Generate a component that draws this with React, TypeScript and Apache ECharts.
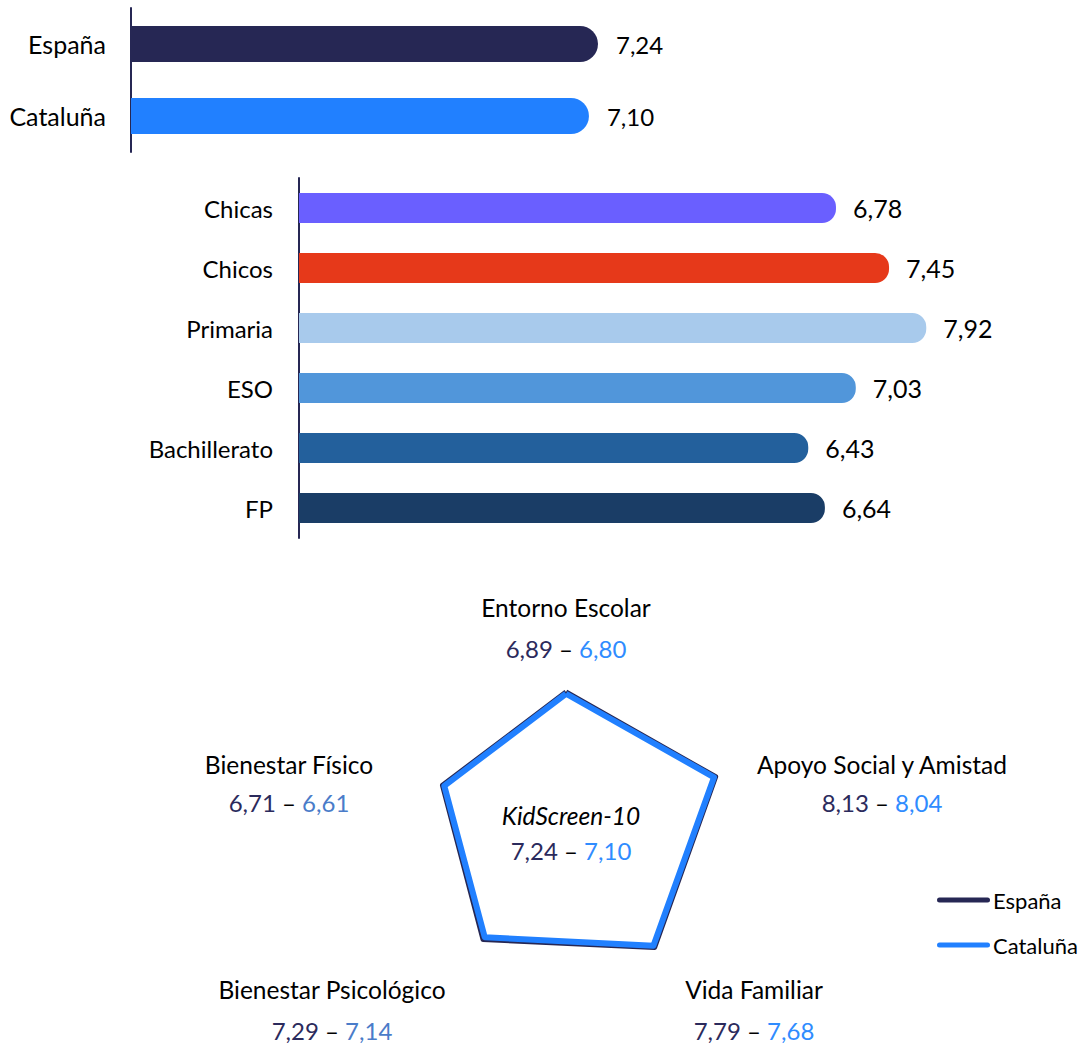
import React, { useEffect, useRef } from "react";
import * as echarts from "echarts";

const topCategories = ["España", "Cataluña"];
const topValues = [7.24, 7.1];
const topColors = ["#262754", "#2180FF"];

const groupCategories = ["Chicas", "Chicos", "Primaria", "ESO", "Bachillerato", "FP"];
const groupValues = [6.78, 7.45, 7.92, 7.03, 6.43, 6.64];
const groupColors = ["#6A5FFF", "#E6391A", "#A8CAEC", "#5196DA", "#23609C", "#1A3D66"];

const radarIndicators = [
  "Entorno Escolar",
  "Bienestar Físico",
  "Bienestar Psicológico",
  "Vida Familiar",
  "Apoyo Social y Amistad",
];
const espanaRadar = [6.89, 6.71, 7.29, 7.79, 8.13];
const catalunaRadar = [6.8, 6.61, 7.14, 7.68, 8.04];
const catalunaLabelColors = ["#2F8CFF", "#4A7CC9", "#4A7CC9", "#2F8CFF", "#2F8CFF"];
const radarTitle = "KidScreen-10";

const FONT = "Lato";
const fmt = (v: number) => v.toFixed(2).replace(".", ",");

export default function App() {
  const ref = useRef<HTMLDivElement>(null);
  useEffect(() => {
    if (!ref.current) return;
    const chart = echarts.init(ref.current, undefined, { renderer: "svg" });

    const labelPos = [
      [566, 607],
      [289, 764],
      [332, 989],
      [754, 989],
      [882, 764],
    ];
    const valueOffset = [41, 38, 41, 41, 38];
    const FS = 24.5;
    const VFS = 24;

    const graphics: any[] = [];
    radarIndicators.forEach((name, i) => {
      graphics.push({
        type: "text",
        x: labelPos[i][0],
        y: labelPos[i][1],
        style: {
          text: name,
          fontSize: FS,
          fontFamily: FONT,
          fill: "#000",
          align: "center",
          verticalAlign: "middle",
        },
      });
      graphics.push({
        type: "text",
        x: labelPos[i][0],
        y: labelPos[i][1] + valueOffset[i],
        style: {
          text: `{a|${fmt(espanaRadar[i])}} {d|–} {b|${fmt(catalunaRadar[i])}}`,
          fontSize: VFS,
          fontFamily: FONT,
          align: "center",
          verticalAlign: "middle",
          rich: {
            a: { fill: "#2B2A5C", fontSize: VFS, fontFamily: FONT },
            d: { fill: "#000", fontSize: VFS, fontFamily: FONT },
            b: { fill: catalunaLabelColors[i], fontSize: VFS, fontFamily: FONT },
          },
        },
      });
    });
    graphics.push({
      type: "text",
      x: 571,
      y: 815,
      style: {
        text: radarTitle,
        fontSize: FS,
        fontStyle: "italic",
        fontFamily: FONT,
        fill: "#000",
        align: "center",
        verticalAlign: "middle",
      },
    });
    graphics.push({
      type: "text",
      x: 571,
      y: 850,
      style: {
        text: `{a|${fmt(topValues[0])}} {d|–} {b|${fmt(topValues[1])}}`,
        fontSize: VFS,
        fontFamily: FONT,
        align: "center",
        verticalAlign: "middle",
        rich: {
          a: { fill: "#2B2A5C", fontSize: VFS, fontFamily: FONT },
          d: { fill: "#000", fontSize: VFS, fontFamily: FONT },
          b: { fill: "#2F8CFF", fontSize: VFS, fontFamily: FONT },
        },
      },
    });

    const option: any = {
      animation: false,
      backgroundColor: "#fff",
      textStyle: { fontFamily: FONT },
      grid: [
        { left: 131, top: 8, width: 645, height: 144 },
        { left: 299, top: 178, width: 712.8, height: 360 },
      ],
      xAxis: [
        { gridIndex: 0, type: "value", min: 0, max: 10, show: false },
        { gridIndex: 1, type: "value", min: 0, max: 9, show: false },
      ],
      yAxis: [
        {
          gridIndex: 0,
          type: "category",
          data: topCategories,
          inverse: true,
          axisLine: { show: true, lineStyle: { color: "#262754", width: 2 } },
          axisTick: { show: false },
          axisLabel: { fontSize: 25, color: "#000", margin: 25, fontFamily: FONT },
        },
        {
          gridIndex: 1,
          type: "category",
          data: groupCategories,
          inverse: true,
          axisLine: { show: true, lineStyle: { color: "#262754", width: 2 } },
          axisTick: { show: false },
          axisLabel: { fontSize: 24, color: "#000", margin: 26, fontFamily: FONT },
        },
      ],
      radar: {
        center: [566, 825.4],
        radius: 193.6,
        startAngle: 90,
        indicator: radarIndicators.map((n) => ({ name: n, min: 0, max: 10 })),
        axisName: { show: false },
        axisLine: { show: false },
        splitLine: { show: false },
        splitArea: { show: false },
        axisTick: { show: false },
        axisLabel: { show: false },
      },
      legend: {
        orient: "vertical",
        left: 937,
        top: 889,
        padding: 0,
        itemWidth: 53,
        itemHeight: 5,
        itemGap: 23,
        icon: "path://M2.5,0 L50.5,0 A2.5,2.5 0 0 1 50.5,5 L2.5,5 A2.5,2.5 0 0 1 2.5,0 Z",
        textStyle: { fontSize: 22, color: "#000", fontFamily: FONT, padding: [0, 0, 0, -2] },
        data: ["España", "Cataluña"],
      },
      series: [
        {
          type: "bar",
          xAxisIndex: 0,
          yAxisIndex: 0,
          barWidth: 36,
          data: topValues.map((v, i) => ({ value: v, itemStyle: { color: topColors[i] } })),
          itemStyle: { borderRadius: [0, 18, 18, 0] },
          label: {
            show: true,
            position: "right",
            distance: 18,
            fontSize: 24,
            color: "#000",
            fontFamily: FONT,
            formatter: (p: any) => fmt(p.value),
          },
        },
        {
          type: "bar",
          xAxisIndex: 1,
          yAxisIndex: 1,
          barWidth: 30,
          data: groupValues.map((v, i) => ({ value: v, itemStyle: { color: groupColors[i] } })),
          itemStyle: { borderRadius: [0, 14, 14, 0] },
          label: {
            show: true,
            position: "right",
            distance: 17,
            fontSize: 25,
            color: "#000",
            fontFamily: FONT,
            formatter: (p: any) => fmt(p.value),
          },
        },
        {
          type: "radar",
          name: "España",
          color: "#262754",
          symbol: "none",
          lineStyle: { color: "#262754", width: 5, join: "round" },
          data: [{ value: espanaRadar, name: "España" }],
        },
        {
          type: "radar",
          name: "Cataluña",
          color: "#2180FF",
          symbol: "none",
          lineStyle: { color: "#2180FF", width: 6, join: "round" },
          data: [{ value: catalunaRadar, name: "Cataluña" }],
        },
      ],
      graphic: graphics,
    };
    chart.setOption(option);
    return () => chart.dispose();
  }, []);
  return (
    <div
      ref={ref}
      style={{ position: "absolute", left: 0, top: 0, width: 1081, height: 1043 }}
    />
  );
}
